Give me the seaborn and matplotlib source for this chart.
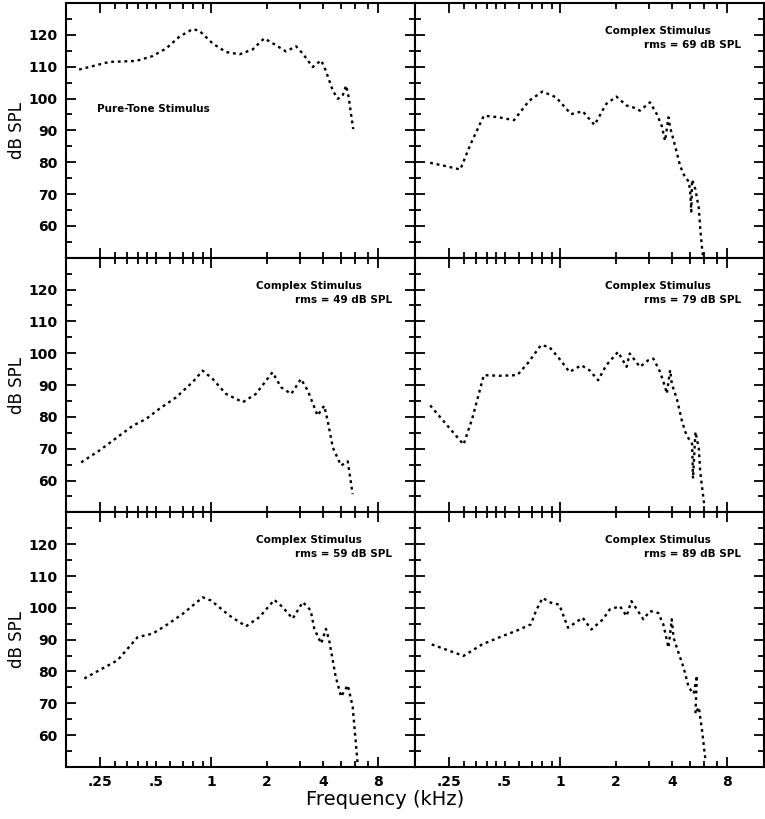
import numpy as np
import pandas as pd
import matplotlib
matplotlib.use('Agg')
import matplotlib.pyplot as plt
import seaborn as sns
from matplotlib.ticker import FixedLocator, FixedFormatter

# curvas: frecuencia (kHz) y nivel (dB SPL)
freq_pure = [0.193, 0.281, 0.392, 0.48, 0.569, 0.671, 0.792, 0.861, 1.017, 1.2, 1.42, 1.67, 1.93,
             2.24, 2.53, 2.87, 3.12, 3.53, 3.92, 4.15, 4.53, 4.82, 5.12, 5.35, 5.52, 5.84]
spl_pure = [109.1, 111.5, 111.8, 113.3, 115.7, 119.4, 121.8, 121.3, 117.3, 114.6, 113.9, 115.4, 118.9,
            116.7, 114.8, 116.4, 114.1, 109.9, 112, 108.8, 102.5, 99.9, 100.9, 104.1, 100.4, 90.4]

freq_69 = [0.198, 0.239, 0.288, 0.327, 0.386, 0.466, 0.562, 0.678, 0.801, 0.947, 1.143, 1.32, 1.53,
           1.77, 2.01, 2.28, 2.48, 2.69, 3.05, 3.32, 3.53, 3.68, 3.84, 3.92, 4.17, 4.44, 4.73, 4.94,
           5.03, 5.10, 5.15, 5.37, 5.6, 5.7, 5.83, 5.9]
spl_69 = [79.8, 78.8, 77.7, 85.6, 94.6, 94.1, 93.2, 99.3, 102.2, 100.4, 95.1, 96, 91.7,
          98.3, 100.6, 97.8, 97.2, 96.2, 98.8, 95.1, 91.4, 86.7, 94.1, 90.9, 85.1, 78.8, 75.1, 74,
          70.9, 64.5, 74.5, 71.4, 65.6, 59.2, 52.9, 50.5]

freq_49 = [0.198, 0.248, 0.293, 0.376, 0.443, 0.523, 0.644, 0.792, 0.898, 1.017, 1.2, 1.48, 1.74,
           2.14, 2.38, 2.7, 3.05, 3.32, 3.75, 4.07, 4.25, 4.53, 5.02, 5.46, 5.8]
spl_49 = [65.7, 69.4, 72.5, 77.2, 79.3, 82.5, 86.1, 90.9, 94.5, 91.9, 87.2, 84.6, 87.2,
          94, 89.3, 87.2, 91.9, 88.2, 80.4, 83.5, 78.8, 70.4, 64.7, 66, 55.7]

freq_79 = [0.198, 0.249, 0.3, 0.334, 0.386, 0.466, 0.585, 0.664, 0.785, 0.871, 0.987, 1.12, 1.3,
           1.44, 1.6, 1.77, 2.05, 2.28, 2.37, 2.69, 2.99, 3.18, 3.46, 3.68, 3.76, 3.92, 4.0, 4.26,
           4.53, 4.73, 4.94, 5.15, 5.21, 5.37, 5.6, 5.7, 5.98]
spl_79 = [83.6, 76.8, 71.3, 79.4, 93.1, 92.9, 93.1, 96.7, 102.5, 102, 98.3, 94.1, 96.2,
          94.6, 91.5, 96.2, 100.4, 95.7, 99.9, 95.7, 97.8, 98.3, 94.1, 89.4, 87.3, 94.7, 90.4, 85.7,
          78.9, 75.3, 73.1, 71.6, 60.6, 75.3, 70, 62.7, 52.7]

freq_59 = [0.206, 0.248, 0.311, 0.4, 0.482, 0.569, 0.7, 0.898, 0.996, 1.25, 1.54, 1.82, 2.19,
           2.43, 2.75, 3.12, 3.44, 3.6, 3.92, 4.16, 4.33, 4.7, 5.02, 5.46, 5.8, 6.18]
spl_59 = [77.8, 80.4, 83.5, 90.8, 91.9, 94.5, 98.1, 103.3, 102.3, 97.6, 94.2, 97.1, 102.5,
          100.2, 96.6, 101.8, 99.2, 93.4, 88.8, 93.4, 89.8, 78.3, 72.1, 75.7, 69, 50.7]

freq_89 = [0.202, 0.3, 0.378, 0.485, 0.574, 0.693, 0.738, 0.801, 0.89, 0.987, 1.1, 1.32, 1.47,
           1.7, 1.85, 2.1, 2.28, 2.42, 2.81, 3.05, 3.38, 3.6, 3.84, 4.0, 4.09, 4.35, 4.63, 4.94,
           5.25, 5.47, 5.37, 5.6, 5.83, 6.07]
spl_89 = [88.5, 84.9, 88.5, 91.1, 92.7, 94.8, 99, 103.1, 101.6, 101, 93.75, 96.9, 93.2,
          96.4, 99.5, 100.5, 97.4, 102.1, 96.4, 99, 98.4, 94.8, 87.5, 96.4, 90.6, 85.9, 81.3, 75,
          73, 78.7, 66.7, 68.8, 61.5, 52.6]

# orden de los paneles: fila por fila
curvas = [(freq_pure, spl_pure, None), (freq_69, spl_69, '69'),
          (freq_49, spl_49, '49'), (freq_79, spl_79, '79'),
          (freq_59, spl_59, '59'), (freq_89, spl_89, '89')]

x_major = [0.25, 1, 8]
x_minor = [0.3, 0.35, 0.4, 0.45, 0.5, 0.6, 0.7, 0.8, 0.9, 2, 3, 4, 5, 6, 7]
x_minor_lab = ['' if v not in (0.5, 2, 4) else ('.5' if v == 0.5 else str(v)) for v in x_minor]
y_major = [60, 70, 80, 90, 100, 110, 120]
y_minor = [55, 65, 75, 85, 95, 105, 115, 125]

sns.set_theme(style='ticks')
plt.rcParams['font.family'] = ['DejaVu Sans']
plt.rcParams['axes.linewidth'] = 1.5
plt.rcParams['text.color'] = 'black'
plt.rcParams['axes.labelcolor'] = 'black'

fig, axes = plt.subplots(3, 2, sharex=True, sharey=True, figsize=(7.65, 8.19), dpi=100)
fig.subplots_adjust(left=0.0863, right=0.9987, top=0.9963, bottom=0.0635, wspace=0, hspace=0)

for ax, (f, s, rms) in zip(axes.flat, curvas):
    df = pd.DataFrame({'freq': f, 'spl': s})
    sns.lineplot(data=df, x='freq', y='spl', ax=ax, sort=False, estimator=None,
                 color='black', linewidth=1.7, linestyle=(0, (1.2, 1.6)))
    ax.set_xscale('log')
    ax.set_xlim(0.164, 12.6)
    ax.set_ylim(50, 130)
    ax.set_xlabel('')
    ax.set_ylabel('')
    if rms is None:
        ax.text(0.088, 0.583, 'Pure-Tone Stimulus', transform=ax.transAxes,
                fontsize=7.5, fontweight='bold', va='center', ha='left')
    else:
        ax.text(0.545, 0.89, 'Complex Stimulus', transform=ax.transAxes,
                fontsize=7.5, fontweight='bold', va='center', ha='left')
        ax.text(0.935, 0.835, 'rms = ' + rms + ' dB SPL', transform=ax.transAxes,
                fontsize=7.5, fontweight='bold', va='center', ha='right')

ax0 = axes[0, 0]
ax0.xaxis.set_major_locator(FixedLocator(x_major))
ax0.xaxis.set_major_formatter(FixedFormatter(['.25', '1', '8']))
ax0.xaxis.set_minor_locator(FixedLocator(x_minor))
ax0.xaxis.set_minor_formatter(FixedFormatter(x_minor_lab))
ax0.yaxis.set_major_locator(FixedLocator(y_major))
ax0.yaxis.set_minor_locator(FixedLocator(y_minor))

for ax in axes.flat:
    ax.tick_params(which='both', direction='in', top=True, right=True, width=1.3,
                   labelsize=10, pad=6, colors='black')
    ax.tick_params(which='major', length=7)
    ax.tick_params(which='minor', length=4)
    for lab in ax.get_xticklabels(which='both') + ax.get_yticklabels():
        lab.set_fontweight('bold')
    for sp in ax.spines.values():
        sp.set_linewidth(1.5)
        sp.set_color('black')

for ax in axes[:, 0]:
    ax.set_ylabel('dB SPL', fontsize=12, labelpad=2)

fig.text(0.503, 0.024, 'Frequency (kHz)', ha='center', va='center', fontsize=14)

fig.savefig('out.png', dpi=100)
